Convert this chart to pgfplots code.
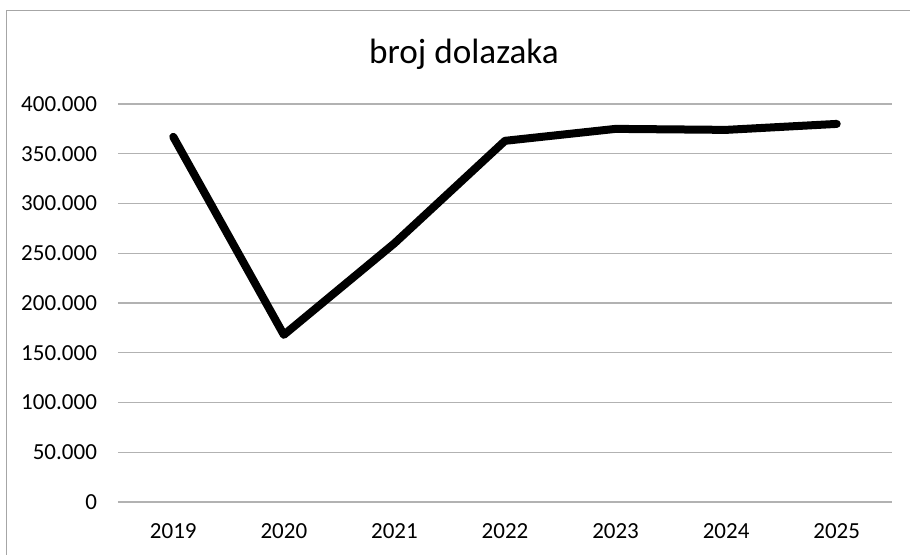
\documentclass[border=0pt]{standalone}
\usepackage{pgfplots}
\pgfplotsset{compat=1.18}
\usepackage{fontspec}
\setmainfont{Carlito}
\begin{document}
\begin{tikzpicture}
\path[use as bounding box] (0,0) rectangle (455pt,277pt);
\draw[gray!70, line width=0.5pt] (3pt,-1pt) -- (3pt,272pt) -- (456pt,272pt);
\node[font=\fontsize{17.6}{20}\selectfont, anchor=base] at (232pt,245.5pt) {broj dolazaka};
\begin{axis}[
  at={(59pt,26pt)}, anchor=south west,
  scale only axis, width=387pt, height=199pt,
  xmin=-0.5, xmax=6.5, ymin=0, ymax=400000,
  xtick={0,1,2,3,4,5,6},
  xticklabels={2019,2020,2021,2022,2023,2024,2025},
  ytick={0,50000,100000,150000,200000,250000,300000,350000,400000},
  yticklabels={0,50.000,100.000,150.000,200.000,250.000,300.000,350.000,400.000},
  scaled y ticks=false,
  /pgf/number format/assume math mode=true,
  axis line style={draw=none},
  axis x line*=bottom, axis y line*=left,
  tick style={draw=none},
  ymajorgrids, grid style={gray!60, line width=0.6pt},
  ticklabel style={font=\fontsize{11.5}{13}\selectfont},
  xticklabel style={yshift=-7pt},
  yticklabel style={xshift=-7pt},
  clip=false,
]
\draw[gray!60, line width=0.6pt] (axis cs:-0.5,0) -- (axis cs:6.5,0);
\addplot[black, line width=4pt, line join=round, line cap=round, mark=none]
  coordinates {(0,367000) (1,168000) (2,260000) (3,363000) (4,375000) (5,374000) (6,380000)};
\end{axis}
\end{tikzpicture}
\end{document}
